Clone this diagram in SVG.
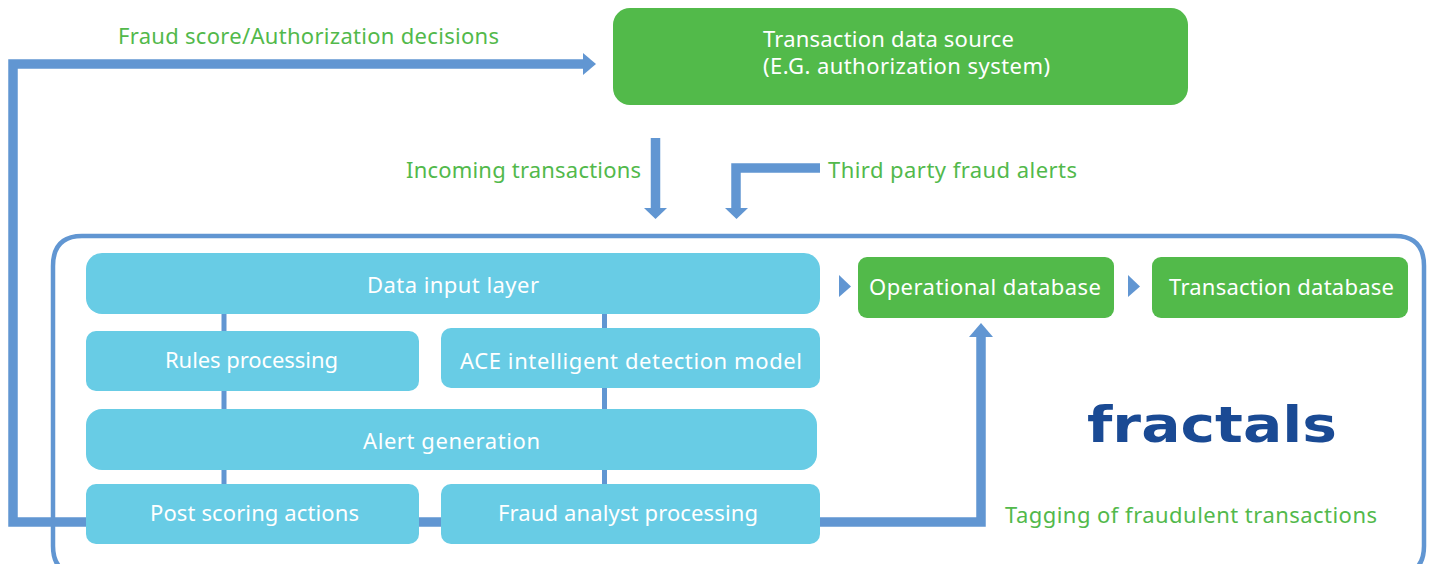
<svg xmlns="http://www.w3.org/2000/svg" width="1431" height="564" viewBox="0 0 1431 564">
<style>
text{font-family:"Noto Sans","Open Sans","Liberation Sans",sans-serif;font-size:22px}
.w{fill:#fff;text-anchor:middle}
.g{fill:#52b94b}
.n{fill:#52ba4a}
.c{fill:#68cce5}
.l{fill:none;stroke:#6196d2}
.h{fill:#6196d2}
</style>
<rect width="1431" height="564" fill="#fff"/>
<g id="frame"><path class="l" stroke-width="4.500" d="M100 575H82Q53 575 53 546V266Q53 236 82 236H1395Q1424 236 1424 266V546Q1424 575 1395 575H1300"/></g>
<g id="connectors">
<path class="l" stroke-width="5" d="M224 310V335M224 388V412M224 466V488M604.500 310V332M604.500 385V412M604.500 466V488"/>
<path class="l" stroke-width="9.500" d="M86 522H13V64H584M419 522H441M820 522H981V336"/>
<path class="h" d="M583 53L596 64L583 75Z"/>
<path class="h" d="M969 337L981 323L993 337Z"/>
<path class="l" stroke-width="9.500" d="M655.500 138V208M820 168H736V208"/>
<path class="h" d="M644 208H667L655.500 219Z"/>
<path class="h" d="M725 208H748L736.500 219Z"/>
<path class="h" d="M839 275L851 286.500L839 297Z"/>
<path class="h" d="M1128 275L1140 286.500L1128 297Z"/>
</g>
<g id="source"><rect class="n" x="613" y="8" width="575" height="97" rx="17"/><text fill="#fff"><tspan x="763" y="47" textLength="251">Transaction data source</tspan><tspan x="763" y="74" textLength="287">(E.G. authorization system)</tspan></text></g>
<g id="label-decisions"><text class="g" x="118" y="44" textLength="381">Fraud score/Authorization decisions</text></g>
<g id="label-incoming"><text class="g" x="406" y="178" textLength="235">Incoming transactions</text></g>
<g id="label-alerts"><text class="g" x="828" y="178" textLength="249">Third party fraud alerts</text></g>
<g id="label-tagging"><text class="g" x="1005" y="523" textLength="372">Tagging of fraudulent transactions</text></g>
<g id="data-input"><rect class="c" x="86" y="253" width="734" height="61" rx="16"/><text class="w" x="453" y="293" textLength="172">Data input layer</text></g>
<g id="rules"><rect class="c" x="86" y="331" width="333" height="60" rx="10"/><text class="w" x="251.500" y="368" textLength="173">Rules processing</text></g>
<g id="ace"><rect class="c" x="441" y="328" width="379" height="60" rx="10"/><text class="w" x="631" y="369" textLength="342">ACE intelligent detection model</text></g>
<g id="alert"><rect class="c" x="86" y="409" width="731" height="61" rx="16"/><text class="w" x="451.500" y="449" textLength="177">Alert generation</text></g>
<g id="post"><rect class="c" x="86" y="484" width="333" height="60" rx="10"/><text class="w" x="254.500" y="521" textLength="209">Post scoring actions</text></g>
<g id="analyst"><rect class="c" x="441" y="484" width="379" height="60" rx="10"/><text class="w" x="628" y="521" textLength="260">Fraud analyst processing</text></g>
<g id="operational"><rect class="n" x="858" y="257" width="256" height="61" rx="9"/><text class="w" x="985" y="295" textLength="232">Operational database</text></g>
<g id="transaction"><rect class="n" x="1152" y="257" width="256" height="61" rx="9"/><text class="w" x="1281.500" y="295" textLength="225">Transaction database</text></g>
<g id="logo"><text x="1087" y="442" textLength="250" lengthAdjust="spacingAndGlyphs" style="font-family:'DejaVu Sans',sans-serif;font-weight:700;font-size:50px;fill:#1a4a94">fractals</text></g>
</svg>
